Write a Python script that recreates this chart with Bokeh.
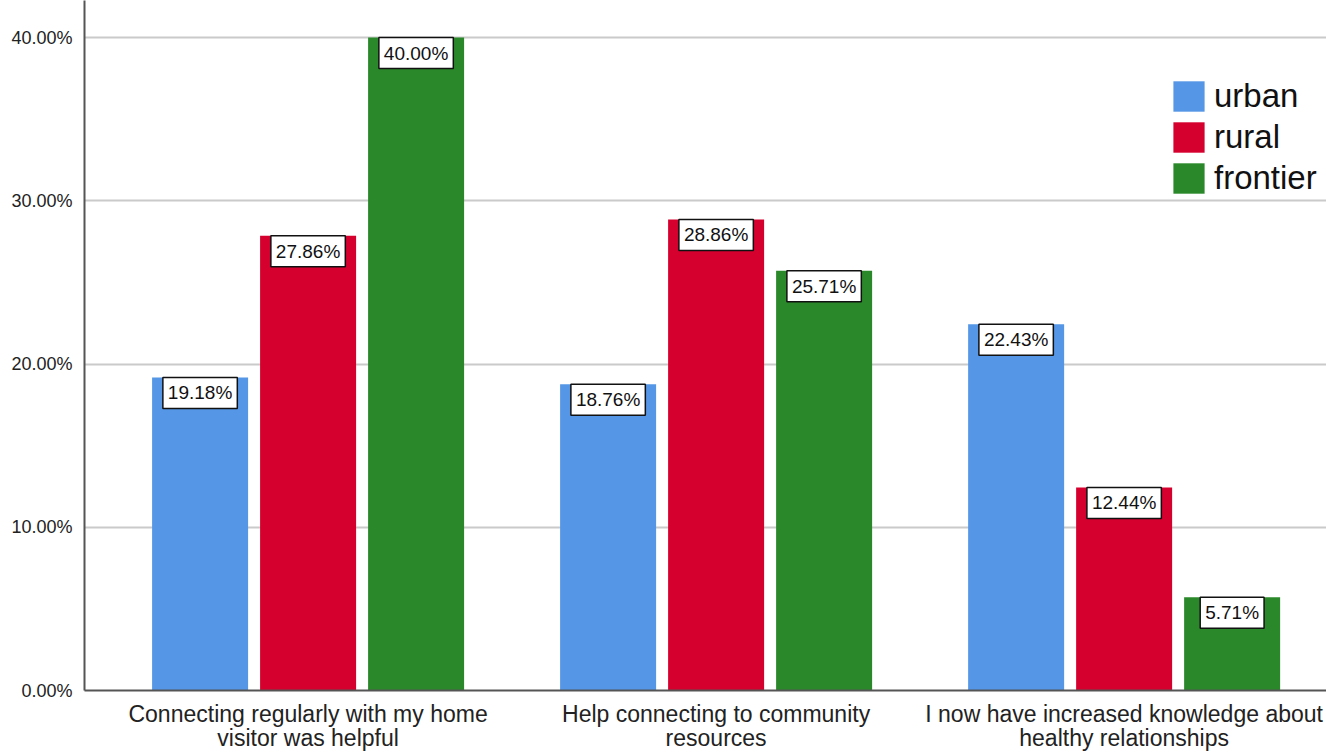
from bokeh.plotting import figure
from bokeh.models import ColumnDataSource, Legend, LegendItem, FixedTicker, PrintfTickFormatter, Range1d
from bokeh.core.properties import value
from bokeh.embed import file_html
from bokeh.resources import INLINE

categories = ["Connecting regularly with my home\nvisitor was helpful",
              "Help connecting to community\nresources",
              "I now have increased knowledge about\nhealthy relationships"]
series = ["urban", "rural", "frontier"]
urban = [19.18, 18.76, 22.43]
rural = [27.86, 28.86, 12.44]
frontier = [40.00, 25.71, 5.71]
colors = ["#5597e6", "#d6002f", "#2a882a"]
y_ticks = [0, 10, 20, 30, 40]

FONT = "Liberation Sans"

p = figure(width=1326, height=754, output_backend="svg", toolbar_location=None,
           x_range=Range1d(-0.548, 2.496), y_range=Range1d(0, 42.27),
           min_border_left=84, min_border_right=0, min_border_top=0, min_border_bottom=62)
p.outline_line_color = None
p.background_fill_color = "white"
p.xgrid.grid_line_color = None
p.ygrid.grid_line_color = "#cacaca"
p.ygrid.grid_line_width = 2

offsets = [-0.2647, 0.0, 0.2647]
bw = 0.2353
items = []
srcs = []
for name, vals, col, off in zip(series, [urban, rural, frontier], colors, offsets):
    src = ColumnDataSource(dict(
        x=[i + off for i in range(len(categories))],
        top=vals,
        lab=[f"{v:.2f}%" for v in vals],
    ))
    r = p.vbar(x="x", top="top", width=bw, bottom=0, source=src, fill_color=col, line_color=None)
    items.append(LegendItem(label=name, renderers=[r]))
    srcs.append(src)

for src in srcs:
    p.text(x="x", y="top", text="lab", source=src, anchor="top_center",
           text_align="center", text_baseline="middle",
           text_font=value(FONT), text_font_size="19px", text_color="#111111",
           background_fill_color="white", border_line_color="#111111", border_line_width=1.5,
           padding=5)

p.yaxis.ticker = FixedTicker(ticks=y_ticks)
p.yaxis.formatter = PrintfTickFormatter(format="%.2f%%")
p.yaxis.major_label_text_font = FONT
p.yaxis.major_label_text_font_size = "18px"
p.yaxis.major_label_text_color = "#222222"
p.yaxis.major_label_standoff = 12
p.yaxis.axis_line_color = "#555555"
p.yaxis.axis_line_width = 2

p.xaxis.ticker = FixedTicker(ticks=[0, 1, 2])
p.xaxis.major_label_overrides = {i: c for i, c in enumerate(categories)}
p.xaxis.major_label_text_font = FONT
p.xaxis.major_label_text_font_size = "23px"
p.xaxis.major_label_text_color = "#222222"
p.xaxis.major_label_text_line_height = 0.95
p.xaxis.major_label_standoff = 10
p.xaxis.axis_line_color = "#555555"
p.xaxis.axis_line_width = 2

for ax in (p.xaxis, p.yaxis):
    ax.major_tick_line_color = None
    ax.minor_tick_line_color = None
    ax.major_tick_out = 0
    ax.major_tick_in = 0

legend = Legend(items=items, location=(1085, 493), glyph_width=39, glyph_height=38,
                label_text_font=FONT, label_text_font_size="33px", label_height=36,
                label_text_color="#111111",
                label_standoff=6, spacing=3, padding=32, margin=0,
                border_line_color=None, background_fill_color="white", background_fill_alpha=1.0)
p.add_layout(legend, "center")

open("out.html", "w").write(file_html(p, INLINE))
